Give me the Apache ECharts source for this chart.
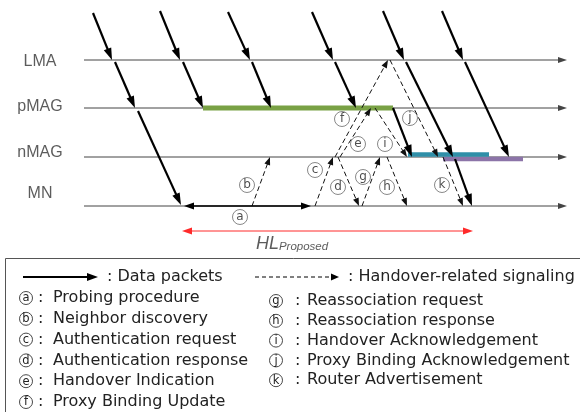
<!DOCTYPE html>
<html><head><meta charset="utf-8">
<script src="https://cdn.jsdelivr.net/npm/echarts@6/dist/echarts.min.js"></script>
<style>html,body{margin:0;padding:0;background:#fff}#c{width:580px;height:412px}</style>
</head><body><div id="c"></div>
<script>
// ---- data (diagram coordinates) ----
const lanes = ['LMA', 'pMAG', 'nMAG', 'MN'];
const laneY = [60, 108, 157, 206];
const laneX = [84, 567];
const laneLabelX = [40, 40, 40, 40];
const laneLabelY = [62, 107, 153, 194];

// data packet segments [x1, y1, x2, y2]
const packetSegments = [
  [93, 13, 112, 60], [115, 62, 135, 108], [138, 111, 181, 205],
  [160, 11, 180, 60], [183, 62, 203, 108],
  [228, 12, 250, 60], [252, 62, 271, 108],
  [312, 12, 333, 60], [335, 62, 356, 108],
  [383, 11, 404, 60], [406, 62, 453, 157], [455, 159, 472, 206],
  [442, 11, 463, 60], [465, 62, 509, 157],
  [393, 108, 412, 157]
];
// handover signaling [x1, y1, x2, y2]
const signalNames = ['b', 'c', 'd', 'e', 'f', 'g', 'h', 'i', 'j', 'k'];
const signalSegments = [
  [252, 206, 270, 157],
  [315, 206, 333, 157],
  [338, 157, 359, 206],
  [340, 157, 371, 108],
  [335, 157, 388, 60],
  [362, 206, 380, 157],
  [387, 157, 407, 206],
  [375, 108, 407, 157],
  [390, 60, 438, 157],
  [443, 157, 463, 206]
];
const probingSpan = [[184, 206, 311, 206]];
const hlSpan = [[182, 231, 473, 231]];

const bufferX = [[203, 393], [443, 523], [408, 489]];
const bufferY = [108, 159, 154.5];
const bufferColors = ['#79a145', '#8c74a8', '#2f8fa8'];

const markLetters = ['a', 'b', 'c', 'd', 'e', 'f', 'g', 'h', 'i', 'j', 'k'];
const markX = [240, 247, 315, 338, 358, 342, 363, 387, 385, 410, 442];
const markY = [217, 185, 170, 187, 144, 119, 177, 187, 144, 118, 185];

const legendLeftLetters = ['a', 'b', 'c', 'd', 'e', 'f'];
const legendLeftTexts = ['Probing procedure', 'Neighbor discovery', 'Authentication request',
  'Authentication response', 'Handover Indication', 'Proxy Binding Update'];
const legendRightLetters = ['g', 'h', 'i', 'j', 'k'];
const legendRightTexts = ['Reassociation request', 'Reassociation response', 'Handover Acknowledgement',
  'Proxy Binding Acknowledgement', 'Router Advertisement'];

// ---- helpers ----
function arrowRender(o) {
  return function (params, api) {
    const p1 = api.coord([api.value(0), api.value(1)]);
    const p2 = api.coord([api.value(2), api.value(3)]);
    const dx = p2[0] - p1[0], dy = p2[1] - p1[1];
    const len = Math.hypot(dx, dy) || 1;
    const ux = dx / len, uy = dy / len;
    const L = o.headLen, W = o.headW;
    const e = [p2[0] - ux * L * 0.7, p2[1] - uy * L * 0.7];
    const s = o.both ? [p1[0] + ux * L * 0.7, p1[1] + uy * L * 0.7] : p1;
    const head = (tip, vx, vy) => ({
      type: 'polygon',
      shape: { points: [tip, [tip[0] - vx * L - vy * W, tip[1] - vy * L + vx * W], [tip[0] - vx * L + vy * W, tip[1] - vy * L - vx * W]] },
      style: { fill: o.color }
    });
    const children = [{
      type: 'line', shape: { x1: s[0], y1: s[1], x2: e[0], y2: e[1] },
      style: { stroke: o.color, lineWidth: o.width, lineDash: o.dash || null, fill: null }
    }, head(p2, ux, uy)];
    if (o.both) children.push(head(p1, -ux, -uy));
    return { type: 'group', children };
  };
}
function arrowSeries(name, data, o, z) {
  return { type: 'custom', name, data, z: z || 2, clip: false, silent: true,
    encode: { x: [0, 2], y: [1, 3] }, renderItem: arrowRender(o) };
}

const FONT = '"DejaVu Sans", sans-serif';
const series = [];
series.push(arrowSeries('lanes', laneY.map(y => [laneX[0], y, laneX[1], y]),
  { color: '#444', width: 1, headLen: 9, headW: 3 }, 1));
bufferX.forEach((bx, i) => series.push({
  type: 'line', data: [[bx[0], bufferY[i]], [bx[1], bufferY[i]]], showSymbol: false, z: 2, silent: true,
  lineStyle: { color: bufferColors[i], width: i === 0 ? 5 : 4.5, cap: 'butt' }
}));
series.push(arrowSeries('signaling', signalSegments,
  { color: '#111', width: 1, headLen: 8, headW: 3, dash: [5, 3] }, 3));
series.push(arrowSeries('packets', packetSegments,
  { color: '#000', width: 2.2, headLen: 12, headW: 4 }, 4));
series.push(arrowSeries('probing', probingSpan,
  { color: '#000', width: 1.6, headLen: 10, headW: 3.5, both: true }, 4));
series.push(arrowSeries('HL', hlSpan,
  { color: '#ff2a2a', width: 1, headLen: 10, headW: 3.5, both: true }, 4));
series.push({
  type: 'scatter', data: markLetters.map((l, i) => [markX[i], markY[i], l]), z: 6, silent: true,
  symbol: 'circle', symbolSize: 15,
  itemStyle: { color: '#fff', borderColor: '#444', borderWidth: 0.8 },
  label: { show: true, position: 'inside', formatter: p => p.data[2], fontSize: 12, color: '#222', fontFamily: FONT }
});
series.push({
  type: 'scatter', data: lanes.map((n, i) => [laneLabelX[i], laneLabelY[i], n]), symbolSize: 0, silent: true,
  label: { show: true, position: 'inside', formatter: p => p.data[2], fontSize: 16, color: '#333',
    fontFamily: '"Liberation Sans", Arial, sans-serif' }
});
series.push({
  type: 'scatter', data: [[292, 244]], symbolSize: 0, silent: true,
  label: { show: true, position: 'inside', formatter: '{h|HL}{s|Proposed}',
    rich: {
      h: { fontSize: 18, fontStyle: 'italic', color: '#333', fontFamily: '"Liberation Sans", Arial, sans-serif', verticalAlign: 'bottom' },
      s: { fontSize: 11.5, fontStyle: 'italic', color: '#333', fontFamily: '"Liberation Sans", Arial, sans-serif', verticalAlign: 'bottom', lineHeight: 12 }
    } }
});

// ---- legend box (graphic) ----
const graphic = [];
graphic.push({ type: 'rect', shape: { x: 5.5, y: 258.5, width: 600, height: 200 }, style: { fill: null, stroke: '#555', lineWidth: 1 } });
function legendArrow(x1, x2, y, o) {
  const L = o.headLen, W = o.headW;
  graphic.push({ type: 'line', shape: { x1, y1: y, x2: x2 - L * 0.7, y2: y }, style: { stroke: '#000', lineWidth: o.width, lineDash: o.dash || null } });
  graphic.push({ type: 'polygon', shape: { points: [[x2, y], [x2 - L, y - W], [x2 - L, y + W]] }, style: { fill: '#000' } });
}
function legendText(x, y, text, align, size) {
  graphic.push({ type: 'text', x, y, style: { text, fontSize: size || 16, fontFamily: FONT, fill: '#222', verticalAlign: 'middle', align: align || 'left' } });
}
function legendCircle(x, y, letter) {
  graphic.push({ type: 'circle', shape: { cx: x, cy: y, r: 6.5 }, style: { fill: '#fff', stroke: '#333', lineWidth: 0.9 } });
  legendText(x, y + 0.5, letter, 'center', 11.5);
}
legendArrow(23, 98, 277, { width: 2, headLen: 11, headW: 4 });
legendText(107, 277, ': Data packets');
legendArrow(255, 339, 277, { width: 1, headLen: 8, headW: 3.5, dash: [4, 3] });
legendText(348, 277, ': Handover-related signaling');
legendLeftTexts.forEach((t, i) => {
  const y = 298 + i * 20.8;
  legendCircle(26, y, legendLeftLetters[i]);
  legendText(38, y, ':');
  legendText(53, y, t);
});
legendRightTexts.forEach((t, i) => {
  const y = 301 + i * 19.8;
  legendCircle(276, y, legendRightLetters[i]);
  legendText(295, y, ':');
  legendText(307, y, t);
});

const chart = echarts.init(document.getElementById('c'));
chart.setOption({
  animation: false,
  grid: { left: 0, right: 0, top: 0, bottom: 0 },
  xAxis: { type: 'value', min: 0, max: 580, show: false },
  yAxis: { type: 'value', min: 0, max: 412, inverse: true, show: false },
  series,
  graphic
});
</script></body></html>
